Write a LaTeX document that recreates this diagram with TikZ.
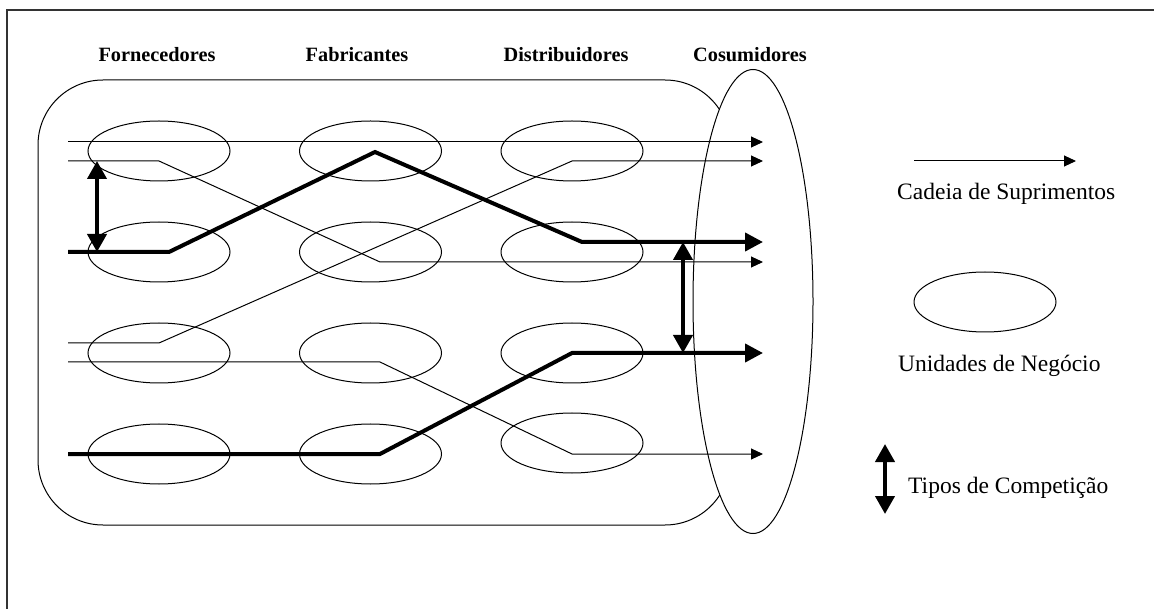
\documentclass[tikz,border=0pt]{standalone}
\usepackage{fontspec}
\setmainfont{Liberation Serif}
\usetikzlibrary{arrows.meta,shapes.geometric}
\begin{document}
\begin{tikzpicture}[x=1pt,y=-1pt,
  unit/.style={draw,ellipse,line width=1pt,minimum width=142pt,minimum height=60pt,inner sep=0pt,outer sep=0pt},
  flow/.style={line width=1pt,line join=miter,-{Triangle[length=12pt,width=11pt]}},
  mainflow/.style={line width=4pt,line join=miter,-{Triangle[length=18pt,width=18pt]}},
  rivalry/.style={line width=4pt,{Triangle[length=18pt,width=19pt]}-{Triangle[length=18pt,width=19pt]}},
  header/.style={font=\bfseries\fontsize{20.3}{24}\selectfont,anchor=base,inner sep=0pt},
  legendtext/.style={font=\fontsize{23.5}{28}\selectfont,anchor=base west,inner sep=0pt},
]
\useasboundingbox (0,0) rectangle (1154,609);

% page frame (top and left only)
\draw[line width=2pt,black!80] (7,609) -- (7,10) -- (1154,10);

% column headings
\node[header] (hForn) at (157,62) {Fornecedores};
\node[header] (hFab)  at (357,62) {Fabricantes};
\node[header] (hDist) at (566,62) {Distribuidores};
\node[header] (hCons) at (750,62) {Cosumidores};

% market area and consumers
\node[draw,line width=1pt,rounded corners=65pt,minimum width=692pt,minimum height=445pt,inner sep=0pt] (market) at (384,302.5) {};
\node[draw,ellipse,fill=white,line width=1pt,minimum width=120pt,minimum height=464pt,inner sep=0pt] (consumers) at (753,301.5) {};

% business units
\foreach \c/\x in {1/159,2/370.5,3/572}{
  \foreach \r/\y in {1/151,2/252,3/353}{
    \node[unit] (u\c\r) at (\x,\y) {};
  }
}
\node[unit] (u14) at (159,454) {};
\node[unit] (u24) at (370.5,454) {};
\node[unit] (u34) at (572,443) {};

% supply chains
\coordinate (a0) at (68,142);  \coordinate (a1) at (763,142);
\coordinate (b0) at (68,161);  \coordinate (b1) at (159,161); \coordinate (b2) at (380,262); \coordinate (b3) at (763,262);
\coordinate (c0) at (68,252);  \coordinate (c1) at (169,252); \coordinate (c2) at (375,152); \coordinate (c3) at (582,242); \coordinate (c4) at (763,242);
\coordinate (d0) at (68,343);  \coordinate (d1) at (159,343); \coordinate (d2) at (572,161); \coordinate (d3) at (763,161);
\coordinate (e0) at (68,362);  \coordinate (e1) at (380,362); \coordinate (e2) at (572,454); \coordinate (e3) at (763,454);
\coordinate (g0) at (68,454);  \coordinate (g1) at (380,454); \coordinate (g2) at (572,353); \coordinate (g3) at (763,353);

\draw[flow] (a0) -- (a1);
\draw[flow] (b0) -- (b1) -- (b2) -- (b3);
\draw[flow] (d0) -- (d1) -- (d2) -- (d3);
\draw[flow] (e0) -- (e1) -- (e2) -- (e3);
\draw[mainflow] (c0) -- (c1) -- (c2) -- (c3) -- (c4);
\draw[mainflow] (g0) -- (g1) -- (g2) -- (g3);

% competition between chains
\coordinate (r1t) at (97,161);  \coordinate (r1b) at (97,252);
\coordinate (r2t) at (683,242); \coordinate (r2b) at (683,353);
\draw[rivalry] (r1t) -- (r1b);
\draw[rivalry] (r2t) -- (r2b);

% legend
\coordinate (lf0) at (914,161); \coordinate (lf1) at (1076,161);
\draw[flow] (lf0) -- (lf1);
\node[legendtext] (lChain) at (897,200) {Cadeia de Suprimentos};
\node[unit] (lUnit) at (985,302) {};
\node[legendtext] (lUnitText) at (898,372) {Unidades de Negócio};
\coordinate (lr0) at (885,444); \coordinate (lr1) at (885,514);
\draw[rivalry] (lr0) -- (lr1);
\node[legendtext] (lComp) at (908,493) {Tipos de Competição};
\end{tikzpicture}
\end{document}
